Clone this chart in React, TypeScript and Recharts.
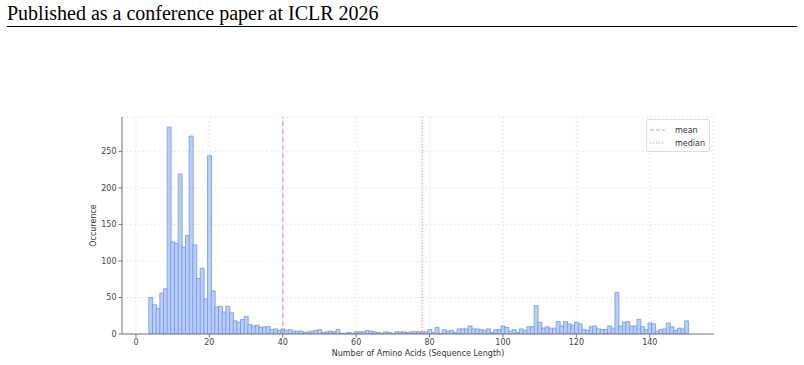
import React from "react";
import {
  ComposedChart,
  Bar,
  XAxis,
  YAxis,
  CartesianGrid,
  ReferenceLine,
  ReferenceArea,
  Label,
} from "recharts";

// sequence lengths (bin centres, width 1)
const lengths = [
  4, 5, 6, 7, 8, 9, 10, 11, 12, 13, 14, 15, 16, 17, 18, 19, 20, 21, 22, 23, 24, 25, 26, 27, 28, 29, 30,
  31, 32, 33, 34, 35, 36, 37, 38, 39, 40, 41, 42, 43, 44, 45, 46, 47, 48, 49, 50, 51, 52, 53, 54, 55,
  56, 57, 58, 59, 60, 61, 62, 63, 64, 65, 66, 67, 68, 69, 70, 71, 72, 73, 74, 75, 76, 77, 78, 79, 80,
  81, 82, 83, 84, 85, 86, 87, 88, 89, 90, 91, 92, 93, 94, 95, 96, 97, 98, 99, 100, 101, 102, 103, 104,
  105, 106, 107, 108, 109, 110, 111, 112, 113, 114, 115, 116, 117, 118, 119, 120, 121, 122, 123, 124,
  125, 126, 127, 128, 129, 130, 131, 132, 133, 134, 135, 136, 137, 138, 139, 140, 141, 142, 143, 144,
  145, 146, 147, 148, 149, 150,
];

// occurrences per length
const counts = [
  50, 40, 35, 56, 62, 283, 126, 124, 219, 119, 135, 271, 122, 76, 90, 48, 244, 59, 37, 38, 30, 38, 29,
  18, 16, 20, 24, 13, 11, 12, 9, 10, 10, 6, 7, 5, 7,
  5, 6, 4, 4, 4, 2, 3, 4, 5, 6, 2, 3, 4, 3, 6, 1, 1, 2, 1, 3, 3, 3, 5, 4, 3, 2, 1, 3, 2, 1, 3, 3, 3,
  2, 3, 3, 3,
  3, 3, 6, 2, 9, 1, 6, 4, 5, 2, 7, 7, 7, 11, 7, 7, 6, 5, 7, 2, 6, 6, 11, 9, 4, 6, 2, 7, 5, 10, 10, 39,
  16, 8, 10, 8, 8, 17, 11, 17, 14, 12, 16, 14, 6, 5, 10, 11, 7, 6, 6, 11, 8, 57, 11, 16, 17, 11, 11,
  20, 10, 6, 15, 14, 4, 6, 7, 15, 10, 5, 8, 7, 18,
];

const xTicks = [0, 20, 40, 60, 80, 100, 120, 140];
const yTicks = [0, 50, 100, 150, 200, 250];
const meanLength = 40;
const medianLength = 78;

const data = lengths.map((len, i) => ({ len, count: counts[i] }));

const tickStyle = { fontSize: 8, fill: "#444", fontFamily: "DejaVu Sans" };
const lineColor = "#f19382";

const App = () => {
  return (
    <div style={{ position: "absolute", left: 0, top: 0, width: 804, height: 365, background: "#fff" }}>
      <div
        style={{
          position: "absolute",
          left: 7,
          top: 2,
          fontFamily: "Liberation Serif",
          fontSize: 20,
          color: "#000",
          whiteSpace: "nowrap",
        }}
      >
        Published as a conference paper at ICLR 2026
      </div>
      <div style={{ position: "absolute", left: 7, top: 26, width: 790, height: 1, background: "#000" }} />

      <div style={{ position: "absolute", left: 0, top: 0 }}>
        <ComposedChart
          width={804}
          height={365}
          data={data}
          margin={{ top: 117, right: 90, bottom: 11, left: 82 }}
          barCategoryGap={0}
          barGap={0}
        >
          <CartesianGrid stroke="#dedede" strokeDasharray="2 2" strokeWidth={0.7} />
          <XAxis
            dataKey="len"
            type="number"
            domain={[-3.8, 157.5]}
            ticks={xTicks}
            allowDataOverflow
            height={20}
            tick={tickStyle}
            tickSize={3.5}
            tickMargin={2}
            stroke="#777"
          >
            <Label
              content={({ viewBox }: any) => (
                <text
                  x={viewBox.x + viewBox.width / 2}
                  y={356}
                  textAnchor="middle"
                  fontSize={8}
                  fill="#333"
                  fontFamily="DejaVu Sans"
                >
                  Number of Amino Acids (Sequence Length)
                </text>
              )}
            />
          </XAxis>
          <YAxis
            type="number"
            domain={[0, 297]}
            ticks={yTicks}
            allowDataOverflow
            width={40}
            tick={tickStyle}
            tickSize={3.5}
            tickMargin={2}
            stroke="#777"
          >
            <Label
              content={({ viewBox }: any) => {
                const cx = 96;
                const cy = viewBox.y + viewBox.height / 2;
                return (
                  <text
                    x={cx}
                    y={cy}
                    transform={`rotate(-90 ${cx} ${cy})`}
                    textAnchor="middle"
                    fontSize={8}
                    fill="#333"
                    fontFamily="DejaVu Sans"
                  >
                    Occurence
                  </text>
                );
              }}
            />
          </YAxis>
          <Bar
            dataKey="count"
            fill="#b8cef8"
            stroke="#6b8ee8"
            strokeWidth={0.7}
            isAnimationActive={false}
          />
          <ReferenceLine x={meanLength} stroke={lineColor} strokeWidth={1.1} strokeDasharray="5 3" />
          <ReferenceLine x={medianLength} stroke={lineColor} strokeWidth={1.1} strokeDasharray="1.2 1.8" />
          <ReferenceArea fill="none" stroke="#777" strokeWidth={0.8} fillOpacity={0} />
        </ComposedChart>
      </div>

      {/* legend */}
      <div
        style={{
          position: "absolute",
          left: 646,
          top: 119,
          width: 62,
          height: 31,
          border: "1px solid #ddd",
          borderRadius: 2,
          background: "rgba(255,255,255,0.8)",
        }}
      >
        <svg width={62} height={31} style={{ position: "absolute", left: 0, top: 0 }}>
          <line x1={3} x2={18} y1={10} y2={10} stroke={lineColor} strokeWidth={1.1} strokeDasharray="4 2" />
          <line x1={3} x2={18} y1={23} y2={23} stroke={lineColor} strokeWidth={1.1} strokeDasharray="1.2 1.8" />
          <text x={28} y={13} fontSize={8} fill="#333" fontFamily="DejaVu Sans">
            mean
          </text>
          <text x={28} y={26} fontSize={8} fill="#333" fontFamily="DejaVu Sans">
            median
          </text>
        </svg>
      </div>
    </div>
  );
};

export default App;
